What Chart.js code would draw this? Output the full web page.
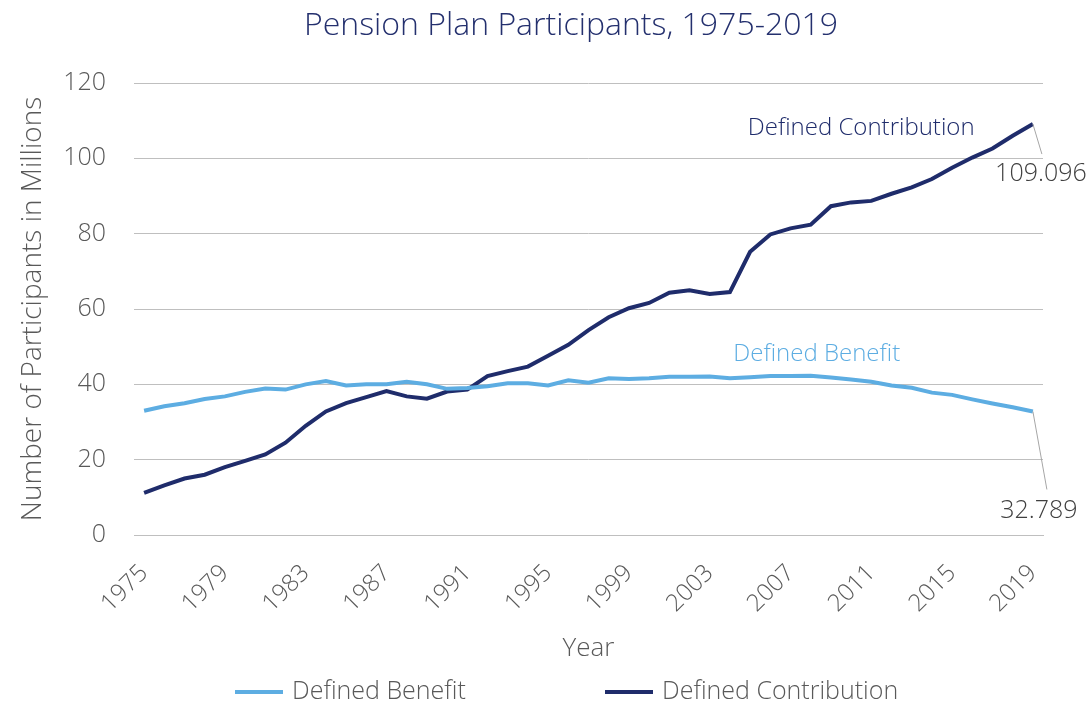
<!DOCTYPE html>
<html lang="en">
<head>
<meta charset="UTF-8">
<title>Pension Plan Participants, 1975-2019</title>
<script src="https://cdn.jsdelivr.net/npm/chart.js"></script>
<style>
    body { margin: 0; background: #fff; }
    #wrap { width: 1092px; height: 707px; position: relative; }
</style>
</head>
<body>
<div id="wrap"><canvas id="pensionChart"></canvas></div>
<script>
    // years 1975 .. 2019
    const years = [
        1975, 1976, 1977, 1978, 1979, 1980, 1981, 1982, 1983, 1984,
        1985, 1986, 1987, 1988, 1989, 1990, 1991, 1992, 1993, 1994,
        1995, 1996, 1997, 1998, 1999, 2000, 2001, 2002, 2003, 2004,
        2005, 2006, 2007, 2008, 2009, 2010, 2011, 2012, 2013, 2014,
        2015, 2016, 2017, 2018, 2019
    ];

    // participants, millions
    const definedBenefit = [
        33.0, 34.2, 35.0, 36.1, 36.8, 38.0, 38.9, 38.6, 40.0, 40.9,
        39.7, 40.0, 40.0, 40.7, 40.0, 38.8, 39.0, 39.5, 40.3, 40.3,
        39.7, 41.1, 40.4, 41.6, 41.4, 41.6, 42.0, 42.0, 42.1, 41.6,
        41.9, 42.2, 42.2, 42.3, 41.8, 41.3, 40.7, 39.7, 39.1, 37.8,
        37.2, 36.0, 34.9, 33.9, 32.789
    ];
    const definedContribution = [
        11.2, 13.2, 15.0, 16.0, 18.0, 19.7, 21.4, 24.5, 29.0, 32.8,
        35.0, 36.6, 38.2, 36.8, 36.2, 38.1, 38.6, 42.2, 43.5, 44.7,
        47.6, 50.5, 54.4, 57.8, 60.2, 61.6, 64.3, 65.0, 64.0, 64.5,
        75.2, 79.8, 81.4, 82.4, 87.3, 88.3, 88.7, 90.6, 92.3, 94.5,
        97.5, 100.2, 102.6, 106.0, 109.096
    ];

    const seriesNames = ['Defined Benefit', 'Defined Contribution'];
    const seriesColors = ['#5DADE2', '#1F2C6B'];
    const yTicks = [0, 20, 40, 60, 80, 100, 120];
    const chartTitle = 'Pension Plan Participants, 1975-2019';

    const FONT = '"Open Sans", "Segoe UI", sans-serif';
    const GREY = '#595959';

    // in-chart series names, placed in data coordinates (category index, value)
    const seriesTags = [
        { text: 'Defined Benefit', idx: 33.3, val: 48, color: seriesColors[0] },
        { text: 'Defined Contribution', idx: 35.5, val: 108, color: seriesColors[1] }
    ];

    const annotatePlugin = {
        id: 'annotate',
        afterDatasetsDraw(chart) {
            const ctx = chart.ctx;
            const xs = chart.scales.x, ys = chart.scales.y;
            ctx.save();
            ctx.font = '300 24px ' + FONT;
            ctx.textAlign = 'center';
            ctx.textBaseline = 'middle';
            seriesTags.forEach(t => {
                ctx.fillStyle = t.color;
                ctx.fillText(t.text, xs.getPixelForValue(t.idx), ys.getPixelForValue(t.val));
            });

            // value callouts for the last point of each series
            const callouts = [
                { ds: 1, dx: 9, dy: 30, tx: 8, ty: 50 },
                { ds: 0, dx: 14, dy: 78, tx: 6, ty: 99 }
            ];
            callouts.forEach(c => {
                const meta = chart.getDatasetMeta(c.ds);
                const pt = meta.data[meta.data.length - 1];
                const v = chart.data.datasets[c.ds].data.at(-1);
                ctx.strokeStyle = '#a6a6a6';
                ctx.lineWidth = 1;
                ctx.beginPath();
                ctx.moveTo(pt.x, pt.y);
                ctx.lineTo(pt.x + c.dx, pt.y + c.dy);
                ctx.stroke();
                ctx.fillStyle = '#404040';
                ctx.font = '300 25px ' + FONT;
                ctx.fillText(v.toFixed(3), pt.x + c.tx, pt.y + c.ty);
            });
            ctx.restore();
        },
        afterDraw(chart) {
            const ctx = chart.ctx;
            ctx.save();
            // title, a little right of the canvas centre like the original
            ctx.font = '300 32px ' + FONT;
            ctx.fillStyle = '#24306E';
            ctx.textAlign = 'center';
            ctx.textBaseline = 'middle';
            ctx.fillText(chartTitle, 571, 26);

            // legend at the bottom
            ctx.font = '300 25px ' + FONT;
            ctx.textAlign = 'left';
            const y = 692;
            const starts = [235, 605];
            chart.data.datasets.forEach((ds, i) => {
                const x = starts[i];
                ctx.strokeStyle = ds.borderColor;
                ctx.lineWidth = 4;
                ctx.beginPath();
                ctx.moveTo(x, y);
                ctx.lineTo(x + 48, y);
                ctx.stroke();
                ctx.fillStyle = GREY;
                ctx.fillText(ds.label, x + 57, y);
            });
            ctx.restore();
        }
    };

    const ctx = document.getElementById('pensionChart').getContext('2d');
    new Chart(ctx, {
        type: 'line',
        data: {
            labels: years,
            datasets: [
                {
                    label: seriesNames[0],
                    data: definedBenefit,
                    borderColor: seriesColors[0],
                    backgroundColor: seriesColors[0],
                    borderWidth: 4,
                    pointRadius: 0,
                    tension: 0,
                    fill: false
                },
                {
                    label: seriesNames[1],
                    data: definedContribution,
                    borderColor: seriesColors[1],
                    backgroundColor: seriesColors[1],
                    borderWidth: 4,
                    pointRadius: 0,
                    tension: 0,
                    fill: false
                }
            ]
        },
        options: {
            responsive: true,
            maintainAspectRatio: false,
            animation: false,
            layout: { padding: { left: 0, right: 49, bottom: 40, top: 83 } },
            plugins: {
                legend: { display: false },
                tooltip: { enabled: false },
                title: { display: false }
            },
            scales: {
                x: {
                    offset: true,
                    grid: { display: false, drawTicks: false },
                    border: { display: true, color: '#bfbfbf' },
                    afterFit: axis => {
                        axis.height = 132;
                        axis.paddingLeft = 0;
                        axis.paddingRight = 0;
                    },
                    ticks: {
                        autoSkip: false,
                        minRotation: 45,
                        maxRotation: 45,
                        padding: 24,
                        color: GREY,
                        font: { family: FONT, size: 24, weight: 300 },
                        callback: function (val, i) {
                            return i % 4 === 0 ? this.getLabelForValue(val) : '';
                        }
                    },
                    title: {
                        display: true,
                        text: 'Year',
                        color: GREY,
                        font: { family: FONT, size: 26, weight: 300 },
                        padding: { top: 0, bottom: 3 }
                    }
                },
                y: {
                    min: yTicks[0],
                    max: yTicks[yTicks.length - 1],
                    grid: { color: '#bfbfbf', drawTicks: false },
                    border: { display: false },
                    afterBuildTicks: axis => { axis.ticks = yTicks.map(v => ({ value: v })); },
                    afterFit: axis => { axis.width = 134; },
                    ticks: {
                        padding: 28,
                        color: GREY,
                        font: { family: FONT, size: 25, weight: 300 }
                    },
                    title: {
                        display: true,
                        text: 'Number of Participants in Millions',
                        color: GREY,
                        font: { family: FONT, size: 28, weight: 300 },
                        padding: { top: 16, bottom: 8 }
                    }
                }
            }
        },
        plugins: [annotatePlugin]
    });
</script>
</body>
</html>
